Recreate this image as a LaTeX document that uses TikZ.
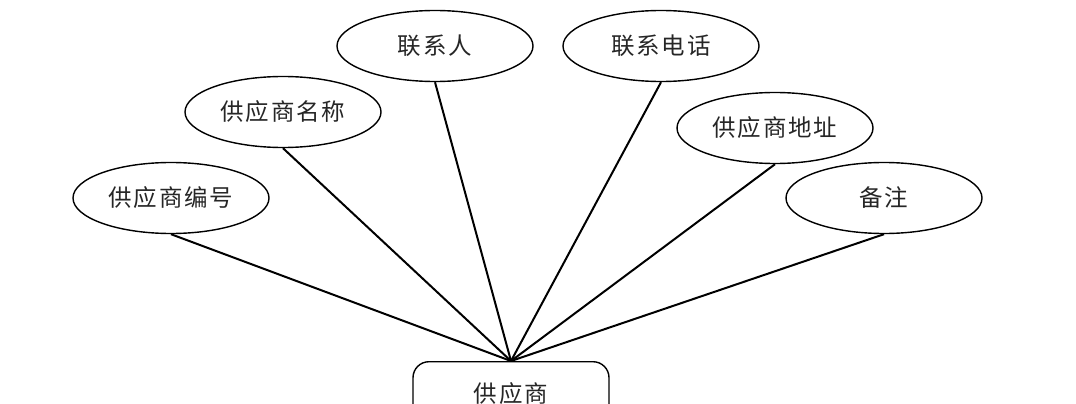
\documentclass[tikz,border=0pt]{standalone}
\usepackage{fontspec}
\newfontfamily\cjk[LetterSpace=8]{Noto Sans CJK SC}
\usetikzlibrary{shapes.geometric}
\tikzset{
  attr/.style={ellipse, draw=black, line width=1.4pt, fill=white,
    minimum width=196pt, minimum height=71pt, inner sep=0pt,
    font=\cjk\fontsize{23.5}{23.5}\selectfont, text=black!85},
  ent/.style={rectangle, rounded corners=16pt, draw=black, line width=1.4pt, fill=white,
    minimum width=196pt, minimum height=80pt, anchor=north, inner sep=0pt},
  conn/.style={line width=2pt, black}
}
\begin{document}
\begin{tikzpicture}[x=1pt,y=-1pt]
\useasboundingbox (0,0) rectangle (1076,404);
\clip (0,0) rectangle (1076,404);
\fill[white] (0,0) rectangle (1076,404);
\node[ent] (s) at (511,361) {};
\node[font=\cjk\fontsize{23.5}{23.5}\selectfont, text=black!85] (st) at (511,394) {供应商};
\node[attr] (a1) at (171,198) {供应商编号};
\node[attr] (a2) at (283,112) {供应商名称};
\node[attr] (a3) at (435,46) {联系人};
\node[attr] (a4) at (661,46) {联系电话};
\node[attr] (a5) at (775,128) {供应商地址};
\node[attr] (a6) at (884,198) {备注};
\foreach \a in {a1,a2,a3,a4,a5,a6}{
  \draw[conn] (\a.south) -- (s.north);
}
\end{tikzpicture}
\end{document}
